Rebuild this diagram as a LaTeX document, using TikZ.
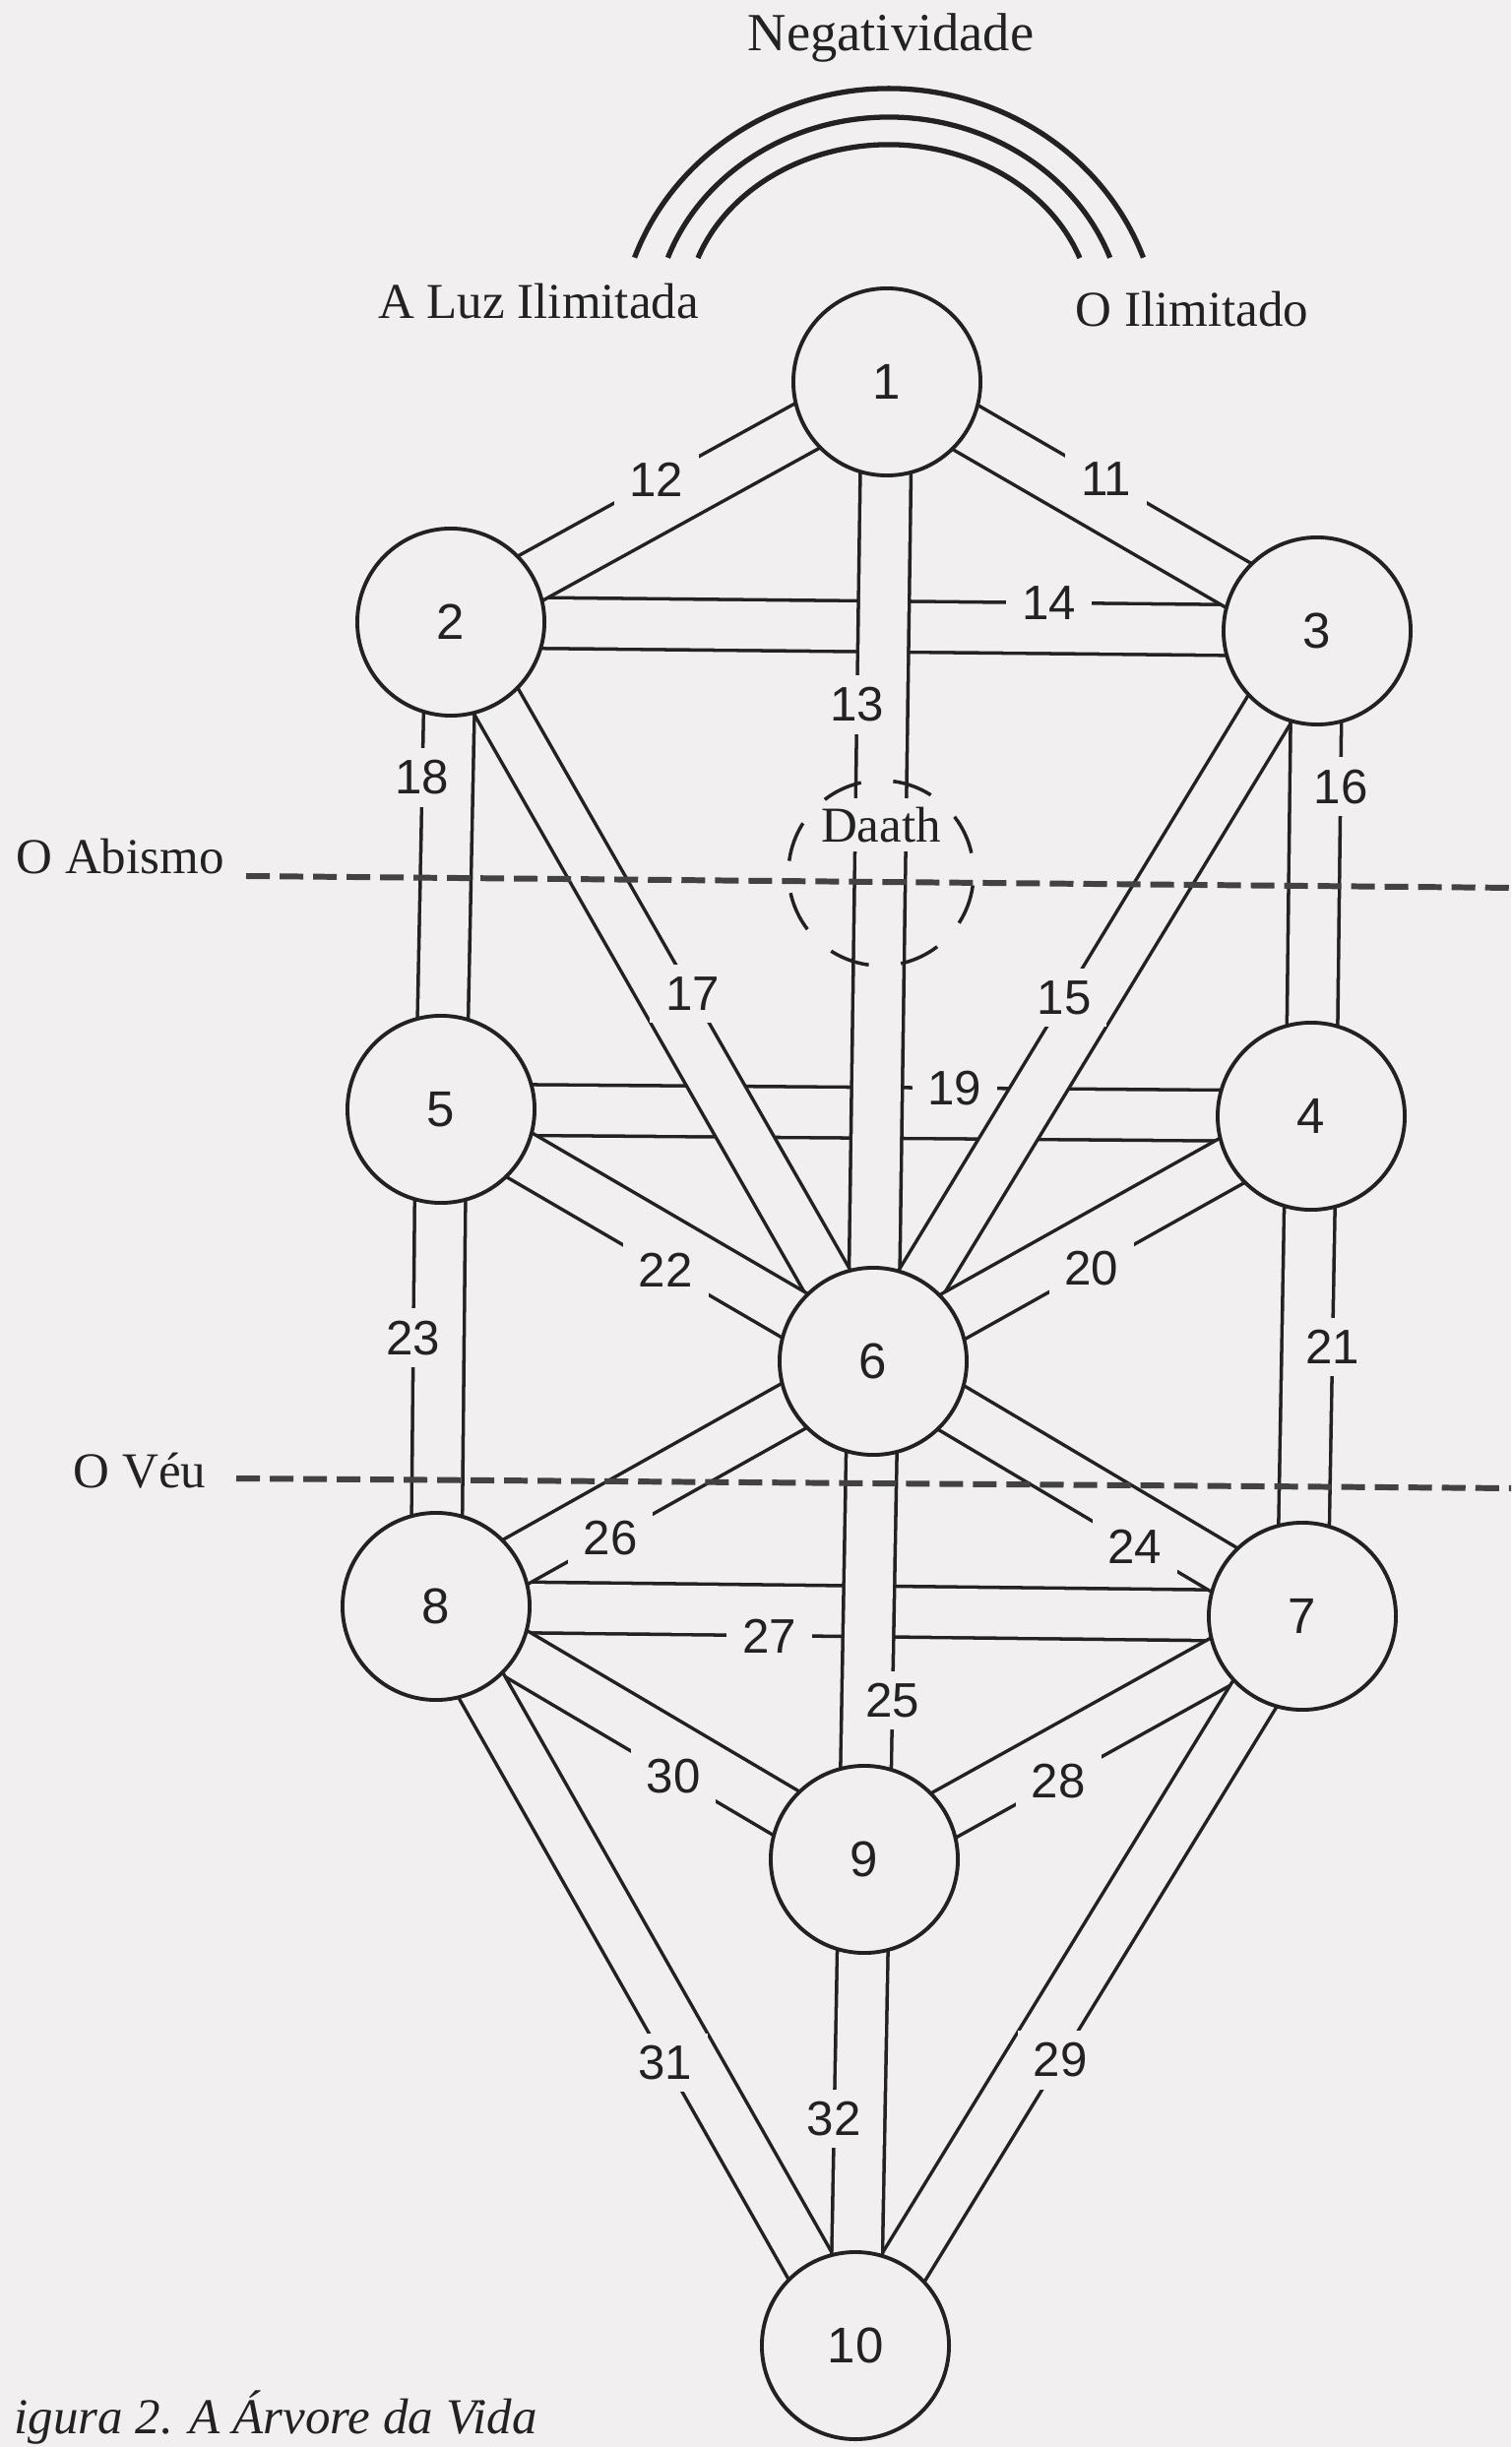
\documentclass[tikz,border=0pt]{standalone}
\usepackage{fontspec}
\setmainfont{Liberation Serif}
\newfontfamily\numfont{Liberation Sans}
\usetikzlibrary{calc}
\definecolor{paper}{RGB}{241,239,239}
\definecolor{ink}{RGB}{34,34,34}
\definecolor{dashink}{RGB}{66,66,66}
\pgfdeclarelayer{sheet}
\pgfdeclarelayer{channels}
\pgfsetlayers{sheet,channels,main}

\begin{document}
\begin{tikzpicture}[x=0.01cm, y=-0.01cm,
  sephira/.style={circle, draw=ink, line width=1.1pt, fill=paper, minimum size=1.9cm,
                  inner sep=0pt, text=ink, font=\numfont\fontsize{14.5}{16}\selectfont},
  channel/.style={draw=ink, line width=1pt, double=paper, double distance=0.48cm},
  pathno/.style={fill=paper, inner xsep=4.5pt, inner ysep=3.5pt, text=ink,
                 font=\numfont\fontsize{14}{16}\selectfont},
  legend/.style={text=ink, font=\fontsize{14.5}{17}\selectfont},
  veil/.style={draw=dashink, line width=1.7pt, dash pattern=on 0.24cm off 0.10cm},
  arch/.style={draw=ink, line width=1.5pt},
  daathring/.style={circle, draw=ink, line width=1pt, minimum size=1.88cm,
                    dash pattern=on 0.41cm off 0.328cm, dash phase=0.533cm}]

  \useasboundingbox (0,0) rectangle (1535,2486);
  \clip (0,0) rectangle (1535,2486);
  \begin{pgfonlayer}{sheet}
    \fill[paper] (0,0) rectangle (1535,2486);
  \end{pgfonlayer}

  % Negativity arches
  \draw[arch] (644.6,261.7) arc[start angle=-160, end angle=-20, x radius=275, y radius=261];
  \draw[arch] (678.4,261.8) arc[start angle=-160, end angle=-20, x radius=239, y radius=217];
  \draw[arch] (709,262.1) arc[start angle=-160, end angle=-20, x radius=206.4, y radius=175];
  \node[legend, font=\fontsize{15.5}{18}\selectfont] (negat) at (905,38) {Negatividade};
  \node[legend] (luz) at (547,306) {A Luz Ilimitada};
  \node[legend] (ilim) at (1211,314) {O Ilimitado};

  % Sephiroth
  \node[sephira] (s1) at (901,388) {1};
  \node[sephira] (s2) at (458,632) {2};
  \node[sephira] (s3) at (1338,641) {3};
  \node[sephira] (s5) at (448,1127) {5};
  \node[sephira] (s4) at (1332,1134) {4};
  \node[sephira] (s6) at (887,1383) {6};
  \node[sephira] (s8) at (443,1632) {8};
  \node[sephira] (s7) at (1323,1642) {7};
  \node[sephira] (s9) at (878,1889) {9};
  \node[sephira] (s10) at (869,2383) {10};

  % Paths (horizontal ones first, the others pass over them)
  \begin{pgfonlayer}{channels}
    \draw[channel] (s2.center) -- (s3.center);
    \node[pathno] at ($(s2)!0.69!(s3)!0.26cm!90:(s3)$) {14};
    \draw[channel] (s5.center) -- (s4.center);
    \node[pathno] at ($(s5)!0.59!(s4)!0.26cm!90:(s4)$) {19};
    \draw[channel] (s8.center) -- (s7.center);
    \node[pathno] at ($(s8)!0.385!(s7)!0.26cm!-90:(s7)$) {27};

    \draw[channel] (s1.center) -- (s3.center);
    \node[pathno] at ($(s1)!0.48!(s3)!0.26cm!90:(s3)$) {11};
    \draw[channel] (s1.center) -- (s2.center);
    \node[pathno] at ($(s1)!0.5!(s2)!0.26cm!-90:(s2)$) {12};
    \draw[channel] (s1.center) -- (s6.center);
    \node[pathno] at ($(s1)!0.33!(s6)!0.26cm!-90:(s6)$) {13};
    \node[legend, fill=paper, inner sep=2.5pt] (daath) at (895,838) {Daath};
    \draw[channel] (s3.center) -- (s6.center);
    \node[pathno] at ($(s3)!0.52!(s6)!0.26cm!-90:(s6)$) {15};
    \draw[channel] (s3.center) -- (s4.center);
    \node[pathno] at ($(s3)!0.32!(s4)!0.26cm!90:(s4)$) {16};
    \draw[channel] (s2.center) -- (s6.center);
    \node[pathno] at ($(s2)!0.52!(s6)!0.26cm!90:(s6)$) {17};
    \draw[channel] (s2.center) -- (s5.center);
    \node[pathno] at ($(s2)!0.32!(s5)!0.26cm!-90:(s5)$) {18};
    \draw[channel] (s4.center) -- (s6.center);
    \node[pathno] at ($(s4)!0.53!(s6)!0.26cm!90:(s6)$) {20};
    \draw[channel] (s4.center) -- (s7.center);
    \node[pathno] at ($(s4)!0.46!(s7)!0.26cm!90:(s7)$) {21};
    \draw[channel] (s5.center) -- (s6.center);
    \node[pathno] at ($(s5)!0.55!(s6)!0.26cm!-90:(s6)$) {22};
    \draw[channel] (s5.center) -- (s8.center);
    \node[pathno] at ($(s5)!0.46!(s8)!0.26cm!-90:(s8)$) {23};
    \draw[channel] (s6.center) -- (s7.center);
    \node[pathno] at ($(s6)!0.64!(s7)!0.26cm!-90:(s7)$) {24};
    \draw[channel] (s6.center) -- (s9.center);
    \node[pathno] at ($(s6)!0.68!(s9)!0.26cm!90:(s9)$) {25};
    \draw[channel] (s8.center) -- (s6.center);
    \node[pathno] at ($(s8)!0.37!(s6)!0.26cm!-90:(s6)$) {26};
    \draw[channel] (s7.center) -- (s9.center);
    \node[pathno] at ($(s7)!0.585!(s9)!0.26cm!90:(s9)$) {28};
    \draw[channel] (s7.center) -- (s10.center);
    \node[pathno] at ($(s7)!0.59!(s10)!0.26cm!90:(s10)$) {29};
    \draw[channel] (s8.center) -- (s9.center);
    \node[pathno] at ($(s8)!0.585!(s9)!0.26cm!-90:(s9)$) {30};
    \draw[channel] (s8.center) -- (s10.center);
    \node[pathno] at ($(s8)!0.6!(s10)!0.26cm!-90:(s10)$) {31};
    \draw[channel] (s9.center) -- (s10.center);
    \node[pathno] at ($(s9)!0.534!(s10)!0.26cm!-90:(s10)$) {32};
  \end{pgfonlayer}

  % Daath, the hidden sephira
  \node[daathring] (daathring) at (895,887) {};

  % The Abyss and the Veil
  \node[legend] (abismo) at (122,870) {O Abismo};
  \draw[veil] (250,890) -- (1540,902);
  \node[legend] (veu) at (142,1494) {O Véu};
  \draw[veil] (240,1502) -- (1540,1512);

  % Caption
  \node[legend, anchor=base west, font=\itshape\fontsize{14.5}{17}\selectfont] (caption) at (2,2472) {igura 2. A Árvore da Vida};
\end{tikzpicture}
\end{document}
